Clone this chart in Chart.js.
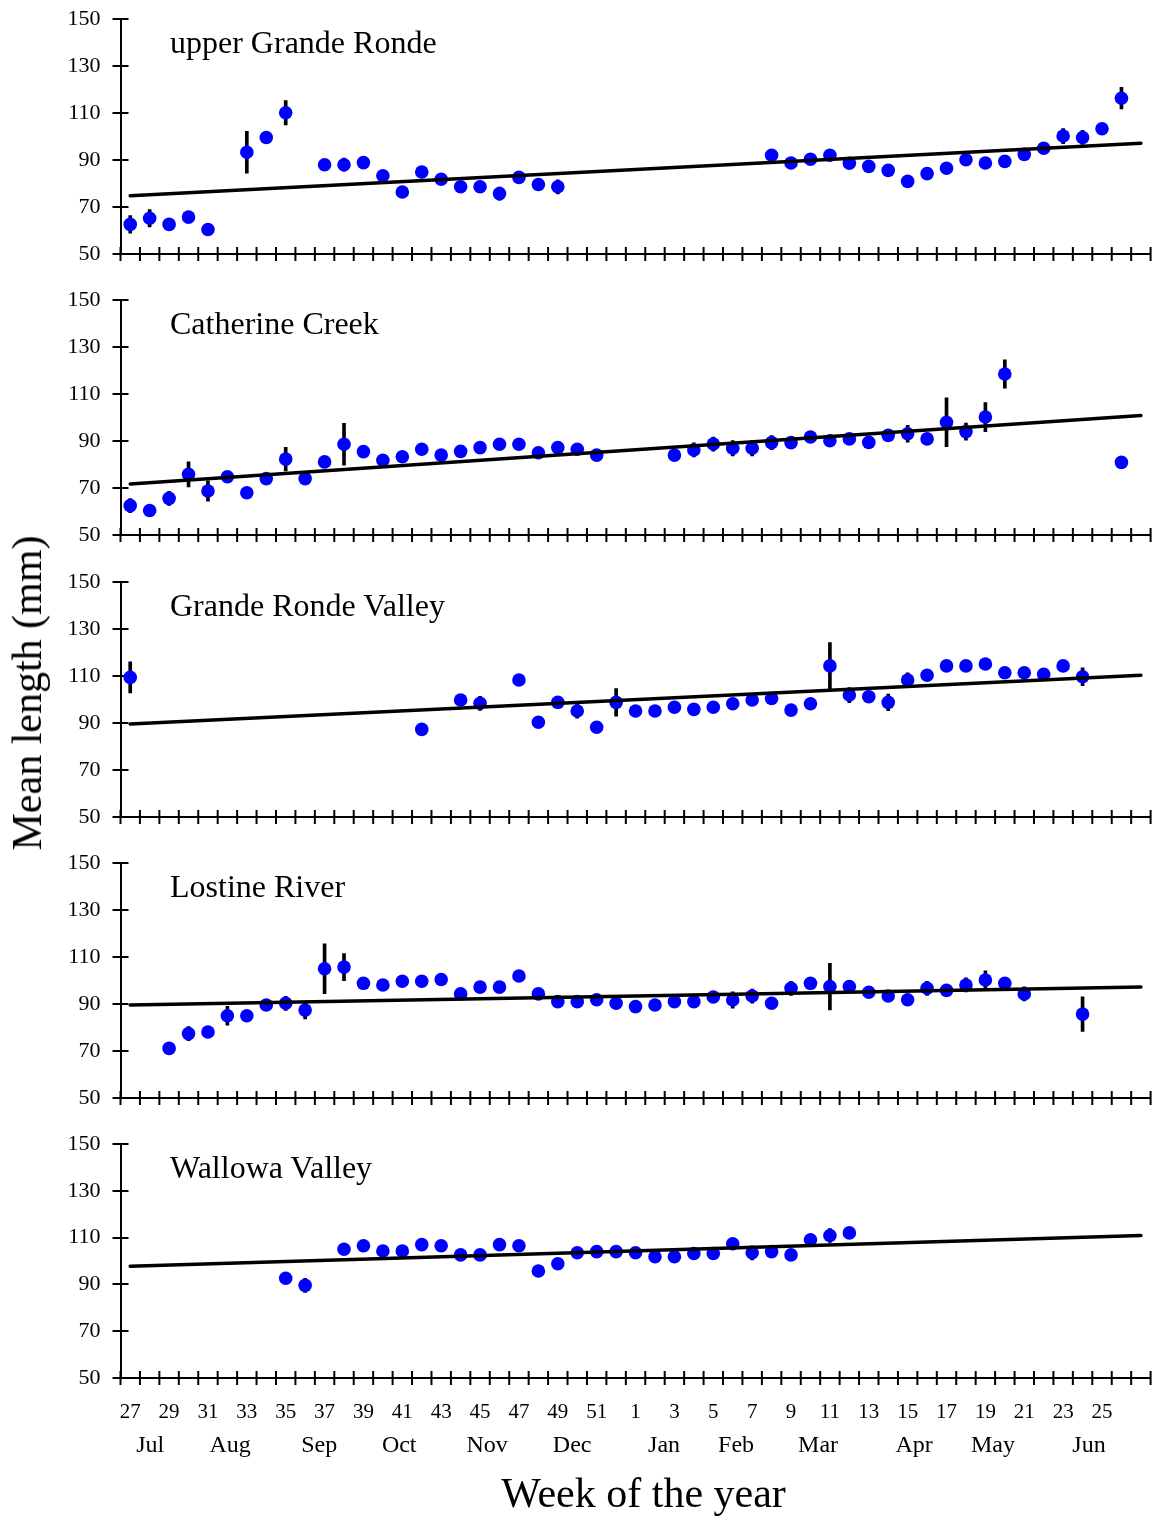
<!DOCTYPE html>
<html>
<head>
<meta charset="utf-8">
<script src="https://cdn.jsdelivr.net/npm/chart.js@4.4.1/dist/chart.umd.min.js"></script>
<style>
html,body{margin:0;padding:0;background:#fff;}
#wrap{position:relative;width:1157px;height:1520px;overflow:hidden;font-family:"Liberation Serif","Times New Roman",serif;color:#000;}
.panel{position:absolute;left:0;width:1157px;}
.panel canvas{display:block;}
.ptitle{position:absolute;left:170px;font-size:32px;line-height:32px;white-space:nowrap;}
#ytitle{position:absolute;font-size:42px;line-height:42px;white-space:nowrap;left:27px;top:693px;transform:translate(-50%,-50%) rotate(-90deg);}
#xtitle{position:absolute;font-size:42px;line-height:42px;white-space:nowrap;left:643.5px;top:1472px;transform:translateX(-50%);}
</style>
</head>
<body>
<div id="wrap"></div>
<script>
// ---------- DATA ----------
// week-of-year categories (index 0 = week 27 ... index 52 = week 27 of next year)
const weeks = [27,28,29,30,31,32,33,34,35,36,37,38,39,40,41,42,43,44,45,46,47,48,49,50,51,52,
               1,2,3,4,5,6,7,8,9,10,11,12,13,14,15,16,17,18,19,20,21,22,23,24,25,26,27];
// month tick labels and their positions (in week-index units)
const monthNames = ["Jul","Aug","Sep","Oct","Nov","Dec","Jan","Feb","Mar","Apr","May","Jun"];
const monthPos   = [1.03, 5.14, 9.72, 13.84, 18.36, 22.74, 27.47, 31.17, 35.39, 40.33, 44.39, 49.33];
const yTicks = [50,70,90,110,130,150];

const panelNames = ["upper Grande Ronde","Catherine Creek","Grande Ronde Valley","Lostine River","Wallowa Valley"];

// mean length (mm) by week index; null = no sample
const upperGrandeRonde = [62.6,65.2,62.6,65.7,60.4,null,93.3,99.6,110.1,null,88.0,88.0,88.9,83.3,76.4,84.9,81.8,78.6,78.6,75.7,82.6,79.6,78.6,null,null,null,
  null,null,null,null,null,null,null,92.0,88.7,90.3,92.0,88.6,87.3,85.6,80.9,84.2,86.5,90.1,88.7,89.4,92.4,95.0,100.2,99.6,103.3,116.3,null];
const upperGrandeRondeErr = [3.7,3.7,null,null,null,null,8.9,null,5.2,null,null,2.8,null,null,null,null,null,null,null,2.8,null,null,3.0,null,null,null,
  null,null,null,null,null,null,null,null,null,null,null,null,null,null,null,null,null,null,null,null,null,null,3.2,3.0,null,4.6,null];

const catherineCreek = [62.5,60.4,65.6,75.8,68.7,74.8,68.0,74.0,82.3,74.0,81.1,88.6,85.5,81.8,83.3,86.5,84.0,85.6,87.2,88.6,88.6,85.0,87.2,86.5,84.0,null,
  null,null,84.0,86.2,88.7,86.9,86.9,89.3,89.3,91.7,90.1,90.9,89.4,92.4,93.1,90.9,98.0,94.0,100.2,118.5,null,null,null,null,null,80.9,null];
const catherineCreekErr = [3.0,null,3.0,5.3,4.3,null,null,null,5.0,null,null,8.9,null,null,null,null,null,null,null,null,null,null,null,null,null,null,
  null,null,null,3.0,3.0,3.3,3.3,3.0,null,null,null,null,null,null,3.6,null,10.4,3.6,6.2,6.0,null,null,null,null,null,null,null];

const grandeRondeValley = [109.4,null,null,null,null,null,null,null,null,null,null,null,null,null,null,87.3,null,99.8,98.4,null,108.3,90.3,98.8,95.1,88.2,98.8,
  95.1,95.1,96.7,95.8,96.7,98.2,99.8,100.4,95.5,98.2,114.3,101.9,101.2,98.8,108.3,110.3,114.3,114.3,115.1,111.4,111.4,110.7,114.3,109.7,null,null,null];
const grandeRondeValleyErr = [6.6,null,null,null,null,null,null,null,null,null,null,null,null,null,null,null,null,null,3.0,null,null,null,null,3.0,null,5.9,
  null,null,null,null,null,null,null,null,null,null,9.9,3.2,null,3.5,3.0,null,null,null,null,null,null,null,null,3.8,null,null,null];

const lostineRiver = [null,null,71.1,77.4,78.1,85.0,85.0,89.6,90.3,87.4,105.0,105.7,98.8,98.1,99.7,99.7,100.4,94.3,97.2,97.2,101.9,94.3,91.0,91.0,91.8,90.3,
  88.9,89.6,91.0,91.0,93.0,91.7,93.4,90.3,96.7,98.8,97.4,97.4,95.0,93.4,91.8,96.7,95.8,98.1,100.2,98.8,94.3,null,null,85.7,null,null,null];
const lostineRiverErr = [null,null,null,3.0,null,4.0,null,null,3.0,3.8,10.6,5.8,null,null,null,null,null,null,null,null,null,null,null,null,null,null,
  null,null,null,null,null,3.5,3.0,null,3.0,null,9.9,null,null,null,null,3.0,null,3.0,3.9,null,3.0,null,null,7.4,null,null,null];

const wallowaValley = [null,null,null,null,null,null,null,null,92.6,89.6,null,105.0,106.5,104.3,104.3,107.0,106.5,102.6,102.6,107.0,106.5,95.7,98.8,103.5,104.0,104.0,
  103.5,101.8,101.8,103.2,103.2,107.4,103.5,104.0,102.6,109.1,110.9,112.0,null,null,null,null,null,null,null,null,null,null,null,null,null,null,null];
const wallowaValleyErr = [null,null,null,null,null,null,null,null,null,3.0,null,null,null,null,null,null,null,null,null,null,null,null,null,null,null,null,
  null,null,null,null,null,null,3.0,null,null,null,3.0,null,null,null,null,null,null,null,null,null,null,null,null,null,null,null,null];

// regression line end values (at first and last week index)
const upperGrandeRondeTrend = [74.8, 97.1];
const catherineCreekTrend   = [71.7, 100.8];
const grandeRondeValleyTrend = [89.6, 110.3];
const lostineRiverTrend     = [89.6, 97.2];
const wallowaValleyTrend    = [97.8, 110.9];

// ---------- LAYOUT ----------
const FONT = "'Liberation Serif','Times New Roman',serif";
const panelTops = [19, 300, 582, 863, 1144];
const PLOT_H = 235;
const AXIS_LEFT = 120.5;
const RIGHT_PAD = 6.4;

const crossTicks = {
  id: 'crossTicks',
  beforeDatasetsDraw(chart) {
    const {ctx, chartArea, scales} = chart;
    ctx.save();
    ctx.strokeStyle = '#000';
    ctx.lineWidth = 2;
    ctx.beginPath();
    scales.y.ticks.forEach(t => {
      const py = Math.round(scales.y.getPixelForValue(t.value));
      ctx.moveTo(chartArea.left - 8, py);
      ctx.lineTo(chartArea.left + 8, py);
    });
    for (let i = 0; i <= weeks.length; i++) {
      const px = scales.x.getPixelForValue(i - 0.5);
      ctx.moveTo(px, chartArea.bottom - 7);
      ctx.lineTo(px, chartArea.bottom + 7);
    }
    ctx.stroke();
    ctx.restore();
  }
};

function makePanel(idx, name, means, errs, trend) {
  const isBottom = idx === panelTops.length - 1;
  const top = panelTops[idx] - 15;
  const h = isBottom ? 1520 - top : PLOT_H + 30;
  const wrap = document.getElementById('wrap');
  const div = document.createElement('div');
  div.className = 'panel';
  div.style.top = top + 'px';
  div.style.height = h + 'px';
  const cv = document.createElement('canvas');
  cv.width = 1157; cv.height = h;
  cv.style.width = '1157px'; cv.style.height = h + 'px';
  div.appendChild(cv);
  wrap.appendChild(div);

  const t = document.createElement('div');
  t.className = 'ptitle';
  t.style.top = (panelTops[idx] + 6.5) + 'px';
  t.textContent = name;
  wrap.appendChild(t);

  const pts = [];
  const bars = [];
  means.forEach((v, i) => {
    if (v === null) return;
    pts.push({x: i, y: v});
    if (errs[i]) bars.push({x: i, y: [v - errs[i], v + errs[i]]});
  });

  const scales = {
    x: {
      type: 'linear', min: -0.5, max: 52.5, position: 'bottom', offset: false,
      afterBuildTicks: s => { s.ticks = weeks.map((w, i) => ({value: i})); },
      ticks: {
        display: isBottom, autoSkip: false, maxRotation: 0, minRotation: 0, padding: 0,
        color: '#000', font: {family: FONT, size: 21},
        callback: v => (v % 2 === 0 && v < weeks.length - 1) ? String(weeks[v]) : ''
      },
      grid: {display: false, drawTicks: isBottom, tickLength: 22, offset: false},
      border: {display: true, color: '#000', width: 2},
      afterFit: s => { s.height = isBottom ? 48 : 0; }
    },
    y: {
      type: 'linear', min: 50, max: 150, beginAtZero: false,
      afterBuildTicks: s => { s.ticks = yTicks.map(v => ({value: v})); },
      ticks: {color: '#000', font: {family: FONT, size: 22}, padding: 0},
      grid: {display: false, drawTicks: true, tickLength: 20},
      border: {display: true, color: '#000', width: 2},
      afterFit: s => { s.width = AXIS_LEFT; }
    }
  };
  if (isBottom) {
    scales.xm = {
      type: 'linear', min: -0.5, max: 52.5, position: 'bottom', weight: 1,
      afterBuildTicks: s => { s.ticks = monthPos.map(v => ({value: v})); },
      ticks: {
        autoSkip: false, maxRotation: 0, minRotation: 0, padding: 0,
        color: '#000', font: {family: FONT, size: 24},
        callback: (v, i) => monthNames[i]
      },
      grid: {display: false, drawTicks: true, tickLength: 5},
      border: {display: false},
      afterFit: s => { s.height = 94; }
    };
  }

  new Chart(cv, {
    type: 'line',
    data: {
      datasets: [
        {type: 'bar', data: bars, backgroundColor: '#000', borderWidth: 0, barThickness: 3, order: 3, xAxisID: 'x', yAxisID: 'y'},
        {type: 'line', data: pts, showLine: false, pointRadius: 6.8, pointHoverRadius: 6.8,
         pointBackgroundColor: '#0000ff', pointBorderWidth: 0, order: 2, xAxisID: 'x', yAxisID: 'y'},
        {type: 'line', data: [{x: 0, y: trend[0]}, {x: weeks.length - 1, y: trend[1]}], borderColor: '#000',
         borderWidth: 3.5, borderCapStyle: 'round', pointRadius: 0, fill: false, order: 1, xAxisID: 'x', yAxisID: 'y'}
      ]
    },
    options: {
      responsive: false, animation: false, devicePixelRatio: 1,
      layout: {autoPadding: false, padding: {left: 0, right: RIGHT_PAD, top: 15, bottom: isBottom ? 0 : 15}},
      plugins: {legend: {display: false}, tooltip: {enabled: false}},
      events: [],
      scales
    },
    plugins: [crossTicks]
  });
}

makePanel(0, panelNames[0], upperGrandeRonde, upperGrandeRondeErr, upperGrandeRondeTrend);
makePanel(1, panelNames[1], catherineCreek, catherineCreekErr, catherineCreekTrend);
makePanel(2, panelNames[2], grandeRondeValley, grandeRondeValleyErr, grandeRondeValleyTrend);
makePanel(3, panelNames[3], lostineRiver, lostineRiverErr, lostineRiverTrend);
makePanel(4, panelNames[4], wallowaValley, wallowaValleyErr, wallowaValleyTrend);

const yt = document.createElement('div');
yt.id = 'ytitle'; yt.textContent = 'Mean length (mm)';
document.getElementById('wrap').appendChild(yt);
const xt = document.createElement('div');
xt.id = 'xtitle'; xt.textContent = 'Week of the year';
document.getElementById('wrap').appendChild(xt);
</script>
</body>
</html>
